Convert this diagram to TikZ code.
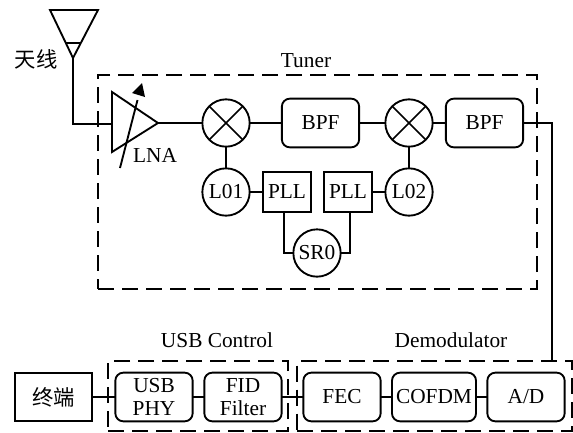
\documentclass[tikz,border=0pt]{standalone}
\usepackage{fontspec}
\setmainfont{Liberation Serif}
\newfontfamily\cjkfont{Noto Sans CJK SC}
\begin{document}
\begin{tikzpicture}[x=0.75pt,y=-0.75pt,line width=1.4pt,
  every node/.style={inner sep=0pt,outer sep=0pt},
  lbl/.style={font=\fontsize{16}{17}\selectfont,align=center},
  rbox/.style={draw,rounded corners=6pt,minimum width=58pt,minimum height=36.5pt,lbl},
  sbox/.style={draw,minimum width=36pt,minimum height=30pt,lbl},
  circ/.style={draw,circle,minimum size=35.5pt,lbl},
  group/.style={draw,dashed,dash pattern=on 12pt off 6pt,line width=1.2pt}]
\useasboundingbox (0,0) rectangle (573,432);
% groups
\node[group,minimum width=329.25pt,minimum height=160.5pt] (tuner) at (317.5,182) {};
\node[group,minimum width=135pt,minimum height=52.5pt] (usbg) at (198,396) {};
\node[group,minimum width=206pt,minimum height=52.5pt] (demg) at (434.5,396) {};
% labels
\node[lbl] (tunerl) at (306,61) {Tuner};
\node[lbl] (usbl) at (217,340) {USB Control};
\node[lbl] (deml) at (451,340) {Demodulator};
\node[font=\cjkfont\fontsize{16}{18}\selectfont] (ant) at (36,59) {天线};
\node[lbl] (lnal) at (155,155) {LNA};
% antenna
\coordinate (atl) at (50,10);
\coordinate (atr) at (98,10);
\coordinate (atip) at (73,58);
\coordinate (abl) at (66,43);
\coordinate (abr) at (80.5,43);
\draw[line join=miter] (atl) -- (atr) -- (atip) -- cycle;
\draw[line width=1.8pt] (abl) -- (abr);
% LNA
\coordinate (la) at (112,92);
\coordinate (lb) at (112,152);
\coordinate (lin) at (112,124);
\coordinate (lout) at (158,123);
\draw (la) -- (lout) -- (lb) -- cycle;
\draw (atip) |- (lin);
\coordinate (arrs) at (120,168);
\coordinate (arre) at (137.5,100);
\coordinate (arrt) at (142,83);
\coordinate (arrl) at (132,93);
\coordinate (arrr) at (145,97);
\draw (arrs) -- (arre);
\fill (arrt) -- (arrl) -- (arrr) -- cycle;
% tuner blocks
\node[circ] (m1) at (226,123) {};
\node[rbox] (b1) at (320.5,123) {BPF};
\node[circ] (m2) at (409,123) {};
\node[rbox] (b2) at (484.5,123) {BPF};
\foreach \m in {m1,m2}{
  \draw[line width=1.2pt] (\m.45) -- (\m.225);
  \draw[line width=1.2pt] (\m.135) -- (\m.315);
}
\node[circ] (l1) at (226,192) {L01};
\node[circ] (l2) at (409,192) {L02};
\node[sbox] (p1) at (287,192) {PLL};
\node[sbox] (p2) at (348,192) {PLL};
\node[circ] (sr) at (317,253) {SR0};
\draw (lout) -- (m1);
\draw (m1) -- (b1);
\draw (b1) -- (m2);
\draw (m2) -- (b2);
\draw (m1) -- (l1);
\draw (m2) -- (l2);
\draw (l1) -- (p1);
\draw (p2) -- (l2);
\coordinate (p1b) at (284,212);
\coordinate (p2b) at (350,212);
\draw (p1b) |- (sr.west);
\draw (p2b) |- (sr.east);
% bottom row
\node[draw,minimum width=58pt,minimum height=36pt] (term) at (53.5,397) {\cjkfont\fontsize{16}{18}\selectfont 终端};
\node[rbox] (usb) at (154,397) {USB\\PHY};
\node[rbox] (fid) at (243,397) {FID\\Filter};
\node[rbox] (fec) at (342,397) {FEC};
\node[rbox,minimum width=63pt] (cof) at (434,397) {COFDM};
\node[rbox] (ad) at (526,397) {A/D};
\draw (term) -- (usb);
\draw (usb) -- (fid);
\draw (fid) -- (fec);
\draw (fec) -- (cof);
\draw (cof) -- (ad);
\coordinate (demin) at (552,361);
\draw (b2.east) -| (demin);
\end{tikzpicture}
\end{document}
